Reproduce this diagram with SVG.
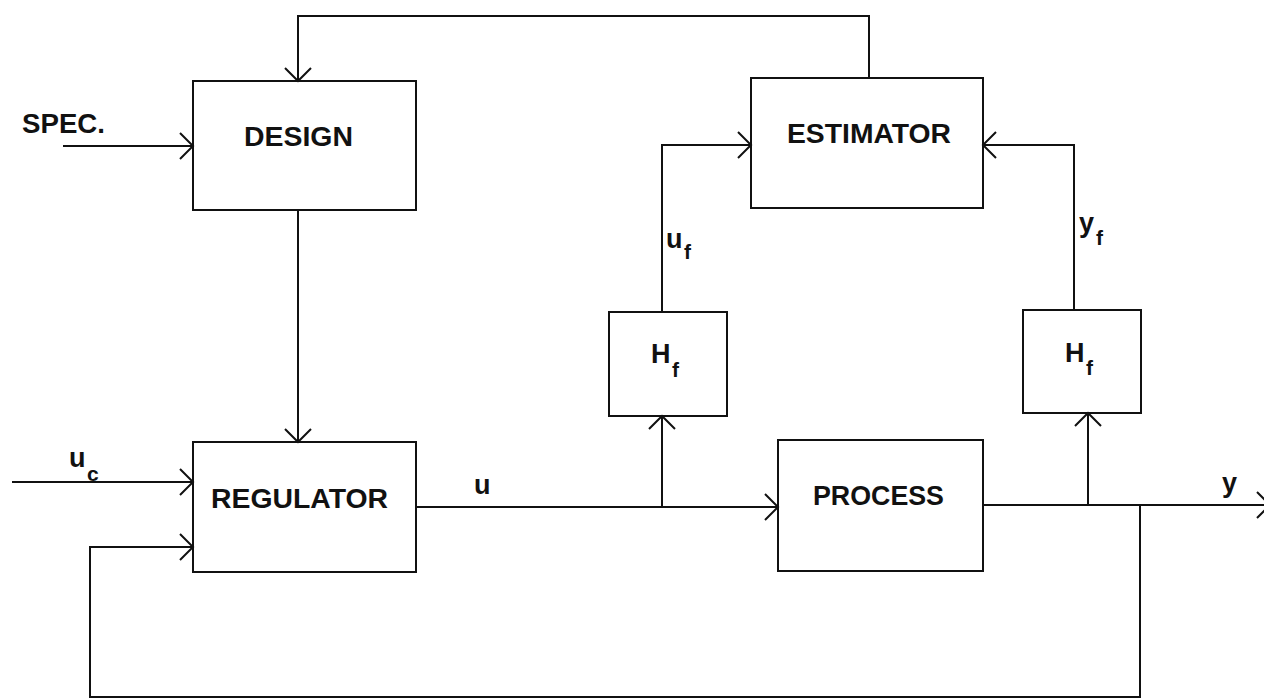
<svg xmlns="http://www.w3.org/2000/svg" width="1264" height="699" viewBox="0 0 1264 699">
<style>
.box{fill:none;stroke:#111;stroke-width:2}
.wire{fill:none;stroke:#111;stroke-width:2}
.lbl{font-family:"Liberation Sans",Arial,sans-serif;font-weight:bold;font-size:27px;fill:#111}
.sub{font-family:"Liberation Sans",Arial,sans-serif;font-weight:bold;font-size:21px;fill:#111}
</style>
<defs>
<marker id="arr" markerUnits="userSpaceOnUse" markerWidth="30" markerHeight="30" refX="0" refY="0" viewBox="-15 -15 30 30" orient="auto" overflow="visible">
<path d="M -13 -13 L 0 0 L -13 13" fill="none" stroke="#111" stroke-width="2"/>
</marker>
</defs>
<rect width="1264" height="699" fill="#fff"/>
<g id="connectors">
<path class="wire" d="M 869 78 V 16 H 298 V 81" marker-end="url(#arr)"/>
<path class="wire" d="M 63 146 H 193" marker-end="url(#arr)"/>
<path class="wire" d="M 298 210 V 442" marker-end="url(#arr)"/>
<path class="wire" d="M 12 482 H 193" marker-end="url(#arr)"/>
<path class="wire" d="M 1140 505 V 697 H 90 V 547 H 193" marker-end="url(#arr)"/>
<path class="wire" d="M 416 507 H 778" marker-end="url(#arr)"/>
<path class="wire" d="M 662 507 V 416" marker-end="url(#arr)"/>
<path class="wire" d="M 662 312 V 145 H 751" marker-end="url(#arr)"/>
<path class="wire" d="M 983 505 H 1270" marker-end="url(#arr)"/>
<path class="wire" d="M 1088 505 V 413" marker-end="url(#arr)"/>
<path class="wire" d="M 1074 310 V 145 H 983" marker-end="url(#arr)"/>
<text class="lbl" x="22" y="133" textLength="83" lengthAdjust="spacingAndGlyphs">SPEC.</text>
<text class="lbl" x="69" y="467">u</text><text class="sub" x="87" y="481">c</text>
<text class="lbl" x="474" y="494">u</text>
<text class="lbl" x="666" y="248">u</text><text class="sub" x="684" y="259">f</text>
<text class="lbl" x="1079" y="232">y</text><text class="sub" x="1096" y="245">f</text>
<text class="lbl" x="1222" y="492">y</text>
</g>
<g id="design">
<rect class="box" x="193" y="81" width="223" height="129"/>
<text class="lbl" x="244" y="146" textLength="109" lengthAdjust="spacingAndGlyphs">DESIGN</text>
</g>
<g id="estimator">
<rect class="box" x="751" y="78" width="232" height="130"/>
<text class="lbl" x="787" y="143" textLength="164" lengthAdjust="spacingAndGlyphs">ESTIMATOR</text>
</g>
<g id="hf-u">
<rect class="box" x="609" y="312" width="118" height="104"/>
<text class="lbl" x="651" y="363">H</text><text class="sub" x="672" y="377">f</text>
</g>
<g id="hf-y">
<rect class="box" x="1023" y="310" width="118" height="103"/>
<text class="lbl" x="1065" y="362">H</text><text class="sub" x="1086" y="375">f</text>
</g>
<g id="regulator">
<rect class="box" x="193" y="442" width="223" height="130"/>
<text class="lbl" x="211" y="508" textLength="177" lengthAdjust="spacingAndGlyphs">REGULATOR</text>
</g>
<g id="process">
<rect class="box" x="778" y="440" width="205" height="131"/>
<text class="lbl" x="813" y="505" textLength="131" lengthAdjust="spacingAndGlyphs">PROCESS</text>
</g>
</svg>
